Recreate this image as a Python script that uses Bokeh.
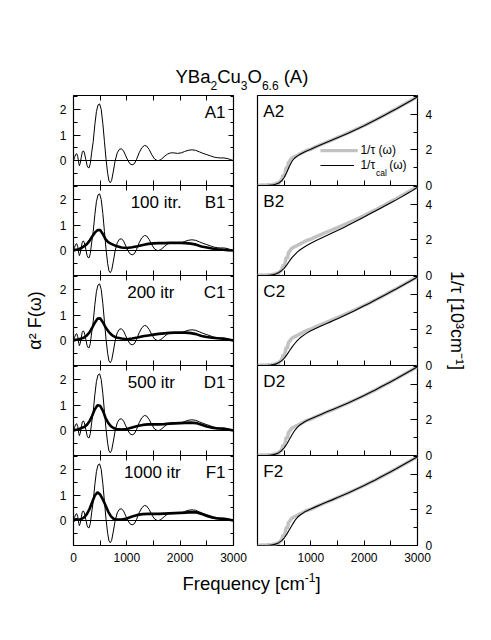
from bokeh.plotting import figure
from bokeh.models import (Range1d, LinearAxis, SingleIntervalTicker, FixedTicker, Span,
                          Label, BoxAnnotation)
from bokeh.layouts import column, row
from bokeh.embed import file_html
from bokeh.resources import INLINE

FONT = "Liberation Sans"
GREY = "#c2c2c2"

# ---------------- data ----------------
# alpha^2 F(omega) from direct inversion (thin curve, shown in every left panel)
freq_inv = [0, 20, 40, 60, 80, 100, 110, 125, 145, 165, 185, 205, 230, 255, 275,
            295, 315, 340, 370, 400, 430, 460, 490, 520, 550, 580, 610, 640, 665, 690,
            715, 745, 780, 820, 860, 900, 940, 980, 1020, 1060, 1100, 1140, 1180, 1230,
            1280, 1330, 1370, 1420, 1470, 1520, 1570, 1600, 1640, 1700, 1760, 1820,
            1880, 1950, 2020, 2080, 2150, 2220, 2290, 2360, 2430, 2500, 2570, 2640,
            2700, 2760, 2820, 2880, 2940, 3000]
a2f_inv = [0.0, 0.12, 0.24, 0.27, 0.15, -0.12, -0.2, -0.12, 0.12, 0.33, 0.38, 0.3,
           0.05, -0.2, -0.28, -0.28, -0.12, 0.3, 0.75, 1.4, 1.92, 2.18, 2.22, 2.0,
           1.45, 0.75, 0.05, -0.5, -0.8, -0.87, -0.78, -0.45, -0.02, 0.3, 0.44, 0.46,
           0.37, 0.18, 0.0, -0.13, -0.17, -0.13, 0.03, 0.3, 0.5, 0.59, 0.57, 0.43,
           0.22, 0.06, 0.0, 0.0, 0.04, 0.15, 0.25, 0.3, 0.3, 0.28, 0.3, 0.35, 0.4,
           0.42, 0.4, 0.34, 0.28, 0.23, 0.18, 0.13, 0.11, 0.1, 0.1, 0.08, 0.04, 0.0]

# alpha^2 F(omega) after iterative maximum-entropy refinement (thick curves)
freq_iter = [0, 50, 100, 150, 200, 250, 300, 350, 400, 450, 500, 550, 600, 650, 700,
             750, 800, 900, 1000, 1100, 1200, 1300, 1400, 1500, 1600, 1700, 1800,
             1900, 2000, 2100, 2200, 2300, 2400, 2500, 2600, 2700, 2800, 2900, 3000]
a2f_100 = [0, 0.03, 0.05, 0.1, 0.17, 0.25, 0.38, 0.55, 0.7, 0.8, 0.8, 0.65, 0.45,
           0.33, 0.27, 0.22, 0.18, 0.12, 0.1, 0.13, 0.17, 0.22, 0.26, 0.28, 0.29,
           0.29, 0.3, 0.3, 0.3, 0.29, 0.27, 0.23, 0.16, 0.12, 0.08, 0.05, 0.03, 0.01, 0.0]
a2f_200 = [0, 0.03, 0.05, 0.08, 0.12, 0.2, 0.32, 0.5, 0.7, 0.86, 0.87, 0.72, 0.52,
           0.37, 0.25, 0.17, 0.12, 0.08, 0.05, 0.08, 0.12, 0.17, 0.2, 0.23, 0.26,
           0.28, 0.3, 0.31, 0.31, 0.31, 0.29, 0.25, 0.18, 0.14, 0.11, 0.09, 0.07, 0.04, 0.0]
a2f_500 = [0, 0.03, 0.05, 0.1, 0.14, 0.22, 0.36, 0.58, 0.83, 0.99, 0.97, 0.78, 0.5,
           0.3, 0.17, 0.1, 0.06, 0.04, 0.06, 0.12, 0.18, 0.22, 0.24, 0.24, 0.24,
           0.25, 0.27, 0.28, 0.29, 0.3, 0.31, 0.29, 0.23, 0.16, 0.11, 0.08, 0.07, 0.04, 0.0]
a2f_1000 = [0, 0.05, 0.03, 0.06, 0.12, 0.25, 0.45, 0.72, 0.98, 1.11, 1.02, 0.83, 0.6,
            0.35, 0.17, 0.07, 0.05, 0.04, 0.08, 0.16, 0.22, 0.25, 0.26, 0.26, 0.26,
            0.27, 0.28, 0.29, 0.3, 0.31, 0.33, 0.32, 0.26, 0.18, 0.12, 0.08, 0.06, 0.04, 0.0]

# measured scattering rate 1/tau(omega), 10^3 cm^-1
freq_exp = [0, 50, 100, 150, 200, 250, 300, 330, 360, 390, 420, 450, 480, 500, 520,
            540, 560, 580, 600, 620, 650, 700, 750, 800, 850, 900, 950, 1000, 1100,
            1200, 1300, 1400, 1500, 1600, 1700, 1800, 1900, 2000, 2100, 2200, 2300,
            2400, 2500, 2600, 2700, 2800, 2900, 3000]
tau_exp = [0.02, 0.01, 0.03, 0.02, 0.04, 0.03, 0.08, 0.05, 0.15, 0.1, 0.25, 0.3, 0.6,
           0.5, 0.75, 1.05, 0.95, 1.3, 1.35, 1.45, 1.55, 1.63, 1.7, 1.78, 1.86, 1.94,
           2.0, 2.05, 2.19, 2.32, 2.45, 2.57, 2.7, 2.83, 2.96, 3.1, 3.24, 3.38, 3.53,
           3.68, 3.84, 4.0, 4.16, 4.32, 4.49, 4.66, 4.83, 5.0]

# 1/tau recalculated from each alpha^2 F
freq_cal = [0, 100, 200, 250, 300, 350, 400, 450, 500, 550, 600, 650, 700, 750, 800,
            900, 1000, 1100, 1200, 1300, 1400, 1500, 1600, 1700, 1800, 1900, 2000,
            2100, 2200, 2300, 2400, 2500, 2600, 2700, 2800, 2900, 3000]
tau_cal_inv = [0, 0, 0.01, 0.02, 0.04, 0.08, 0.14, 0.25, 0.45, 0.75, 1.1, 1.38, 1.55,
               1.67, 1.76, 1.92, 2.04, 2.18, 2.31, 2.44, 2.56, 2.69, 2.82, 2.95, 3.09,
               3.23, 3.37, 3.52, 3.67, 3.83, 3.99, 4.15, 4.31, 4.48, 4.65, 4.82, 5.0]
tau_cal_100 = [0, 0, 0.01, 0.02, 0.05, 0.1, 0.17, 0.27, 0.4, 0.6, 0.82, 1.02, 1.18,
               1.33, 1.45, 1.65, 1.82, 1.97, 2.11, 2.25, 2.39, 2.53, 2.68, 2.83, 2.98,
               3.14, 3.3, 3.46, 3.62, 3.78, 3.94, 4.1, 4.26, 4.43, 4.6, 4.78, 4.97]
tau_cal_200 = [0, 0, 0.01, 0.02, 0.05, 0.09, 0.17, 0.26, 0.4, 0.6, 0.83, 1.05, 1.24,
               1.42, 1.56, 1.78, 1.96, 2.1, 2.24, 2.37, 2.5, 2.64, 2.78, 2.92, 3.06,
               3.21, 3.36, 3.51, 3.67, 3.83, 3.99, 4.15, 4.31, 4.48, 4.65, 4.82, 4.99]
tau_cal_500 = [0, 0, 0.01, 0.02, 0.05, 0.09, 0.16, 0.27, 0.43, 0.65, 0.92, 1.18, 1.42,
               1.6, 1.73, 1.93, 2.07, 2.2, 2.33, 2.46, 2.58, 2.7, 2.83, 2.96, 3.1,
               3.24, 3.38, 3.53, 3.68, 3.84, 4.0, 4.16, 4.32, 4.49, 4.66, 4.83, 5.0]
tau_cal_1000 = [0, 0, 0.01, 0.02, 0.05, 0.09, 0.16, 0.26, 0.42, 0.64, 0.9, 1.16, 1.4,
                1.59, 1.72, 1.92, 2.06, 2.19, 2.32, 2.45, 2.57, 2.7, 2.83, 2.96, 3.1,
                3.24, 3.38, 3.53, 3.68, 3.84, 4.0, 4.16, 4.32, 4.49, 4.66, 4.83, 5.0]

panel_letters = ["A", "B", "C", "D", "F"]
iter_text = [None, "100 itr.", "200 itr", "500 itr", "1000 itr"]
iter_text_x = [None, 1550, 1450, 1460, 1480]
a2f_thick = [None, a2f_100, a2f_200, a2f_500, a2f_1000]
tau_cal = [tau_cal_inv, tau_cal_100, tau_cal_200, tau_cal_500, tau_cal_1000]

A2F_RANGE = (-0.98, 2.55)
TAU_RANGE = (0, 5.07)
FREQ_MAJOR = [0, 1000, 2000, 3000]
FREQ_MINOR = [500, 1500, 2500]
A2F_MAJOR = [0, 1, 2]
A2F_MINOR = [-0.5, 0.5, 1.5, 2.5]


def base_fig(yr, left, right, bottom):
    p = figure(frame_width=160, frame_height=90,
               x_range=Range1d(0, 3000), y_range=Range1d(*yr),
               x_axis_location=None, y_axis_location=None,
               toolbar_location=None, output_backend="svg",
               min_border_left=left, min_border_right=right,
               min_border_top=10, min_border_bottom=bottom,
               background_fill_color=None, border_fill_color=None,
               outline_line_color="black", outline_line_width=1.2)
    p.grid.visible = False
    return p


def tick_style(ax, major_len, minor_len):
    ax.axis_line_color = None
    ax.major_tick_in = major_len
    ax.major_tick_out = 0
    ax.minor_tick_in = minor_len
    ax.minor_tick_out = 0
    ax.major_tick_line_color = "black"
    ax.minor_tick_line_color = "black"


def labelled_axis(p, side, ticker, major_len, minor_len, standoff=7, axis_label=None):
    ax = LinearAxis(ticker=ticker)
    tick_style(ax, major_len, minor_len)
    ax.major_label_text_font = FONT
    ax.major_label_text_font_size = "12px"
    ax.major_label_text_color = "black"
    ax.major_label_standoff = standoff
    if axis_label:
        ax.axis_label = axis_label
        ax.axis_label_text_font = FONT
        ax.axis_label_text_font_size = "18px"
        ax.axis_label_text_font_style = "normal"
        ax.axis_label_text_color = "black"
        ax.axis_label_standoff = 12
    p.add_layout(ax, side)


def tick_only_axis(p, side, positions, length):
    # ticks without any labels: every position is passed as a minor tick
    ax = LinearAxis(ticker=FixedTicker(ticks=[], minor_ticks=positions))
    tick_style(ax, 0, length)
    p.add_layout(ax, side)


def text(p, x, y, s, size=17, align="left"):
    p.add_layout(Label(x=x, y=y, text=s, text_font=FONT, text_font_size=f"{size}px",
                       text_color="black", text_align=align,
                       text_baseline="alphabetic", y_offset=round(0.4 * size)))


rows = []
for i, letter in enumerate(panel_letters):
    last = i == len(panel_letters) - 1
    bottom = 25 if last else 10

    # left column: alpha^2 F(omega)
    lp = base_fig(A2F_RANGE, 73, 16, bottom)
    labelled_axis(lp, "left", SingleIntervalTicker(interval=1, num_minor_ticks=2), 7, 4,
                  axis_label="α² F(ω)" if letter == "C" else None)
    tick_only_axis(lp, "right", A2F_MAJOR, 5)
    tick_only_axis(lp, "right", A2F_MINOR, 3)
    tick_only_axis(lp, "above", FREQ_MAJOR[1:-1] + FREQ_MINOR, 5)
    if last:
        labelled_axis(lp, "below", FixedTicker(ticks=FREQ_MAJOR, minor_ticks=FREQ_MINOR), 5, 5)
    else:
        tick_only_axis(lp, "below", FREQ_MAJOR[1:-1] + FREQ_MINOR, 5)
    lp.add_layout(Span(location=0, dimension="width", line_color="black",
                       line_width=1))
    lp.line(freq_inv, a2f_inv, line_color="black", line_width=1)
    if a2f_thick[i] is not None:
        lp.line(freq_iter, a2f_thick[i], line_color="black", line_width=2.6)
        text(lp, iter_text_x[i], 1.6, iter_text[i], align="center")
    text(lp, 2850, 1.6, letter + "1", align="right")

    # right column: 1/tau(omega)
    rp = base_fig(TAU_RANGE, 8, 74, bottom)
    labelled_axis(rp, "right", SingleIntervalTicker(interval=2, num_minor_ticks=2), 7, 4,
                  standoff=8, axis_label="1/τ [10³cm⁻¹]" if letter == "C" else None)
    if last:
        labelled_axis(rp, "below", FixedTicker(ticks=FREQ_MAJOR[1:], minor_ticks=FREQ_MINOR), 5, 5)
    else:
        tick_only_axis(rp, "below", FREQ_MAJOR[1:-1] + FREQ_MINOR, 5)
    rp.line(freq_exp, tau_exp, line_color=GREY, line_width=3.5)
    rp.line(freq_cal, tau_cal[i], line_color="black", line_width=1.1)
    text(rp, 110, 3.75, letter + "2")

    if letter == "A":
        # legend
        rp.add_layout(BoxAnnotation(left=1180, right=1880, bottom=1.88, top=2.06,
                                    fill_color=GREY, fill_alpha=1, line_color=None))
        rp.add_layout(BoxAnnotation(left=1180, right=1810, bottom=1.10, top=1.16,
                                    fill_color="black", fill_alpha=1, line_color=None))
        text(rp, 1930, 1.73, "1/τ (ω)", size=12)
        text(rp, 1930, 0.9, "1/τ", size=12)
        text(rp, 2220, 0.56, "cal", size=8.5)
        text(rp, 2470, 0.9, "(ω)", size=12)

    r = row(lp, rp)
    r.margin = (-10, 0, 0, 0) if i == 0 else (-20, 0, 0, 0)
    rows.append(r)


def strip(height):
    p = figure(width=491, height=height, x_range=Range1d(0, 491),
               y_range=Range1d(0, height), x_axis_location=None,
               y_axis_location=None, toolbar_location=None, output_backend="svg",
               min_border=0, outline_line_color=None,
               background_fill_color=None, border_fill_color=None)
    p.grid.visible = False
    return p


# title with sub-scripted formula
header = strip(95)
title_parts = [("YBa", 175.0, 11.7, 18.5), ("2", 210.0, 5.0, 12),
               ("Cu", 216.7, 11.7, 18.5), ("3", 240.3, 5.0, 12),
               ("O", 247.0, 11.7, 18.5), ("6.6", 261.4, 5.0, 12),
               ("(A)", 283.2, 11.7, 18.5)]
for s, x, y, size in title_parts:
    text(header, x, y, s, size=size)

# x-axis title shared by both columns
footer = strip(70)
for s, x, y, size in [("Frequency [cm", 182.0, 50, 18.5),
                      ("-1", 304.3, 58, 12), ("]", 315.0, 50, 18.5)]:
    text(footer, x, y, s, size=size)

layout = column(header, *rows, footer)

open("out.html", "w").write(file_html(layout, INLINE))
